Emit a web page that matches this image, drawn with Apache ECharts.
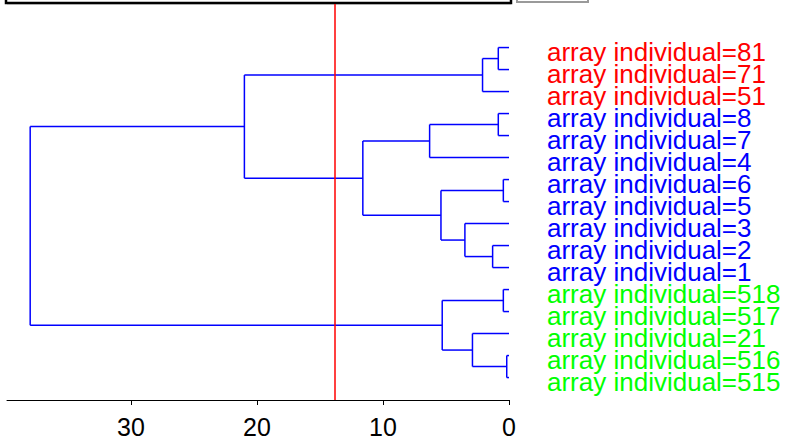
<!DOCTYPE html>
<html>
<head>
<meta charset="utf-8">
<script src="https://cdn.jsdelivr.net/npm/echarts@6/dist/echarts.min.js"></script>
<style>
  html, body { margin: 0; padding: 0; background: #fff; }
  #chart { width: 789px; height: 442px; }
</style>
</head>
<body>
<div id="chart"></div>
<script>
// Leaves, listed top to bottom in dendrogram order
const leafLabels = [
  'array individual=81', 'array individual=71', 'array individual=51',
  'array individual=8', 'array individual=7', 'array individual=4',
  'array individual=6', 'array individual=5', 'array individual=3',
  'array individual=2', 'array individual=1',
  'array individual=518', 'array individual=517', 'array individual=21',
  'array individual=516', 'array individual=515'
];
// Cluster each leaf falls into when the tree is cut
const leafCluster = [0, 0, 0, 1, 1, 1, 1, 1, 1, 1, 1, 2, 2, 2, 2, 2];

// Merge steps (hclust style): negative = leaf number (1-based), positive = earlier step
const mergeLeft   = [-15, -7, -12, -1, -4, -10,  4, -14, -9,  3,  2,  5, 12,  7, 14];
const mergeRight  = [-16, -8, -13, -2, -5, -11, -3,   1,  6,  8,  9, -6, 11, 13, 10];
const mergeHeight = [0.18, 0.45, 0.45, 0.85, 0.85, 1.3, 2.1, 2.9, 3.5, 5.3, 5.4, 6.3, 11.6, 21.0, 38.0];

// Height at which the tree is cut
const cutHeight = 13.8;

// Axis tick values
const xTicks = [0, 10, 20, 30];

const clusterColors = ['#ff0000', '#0000ff', '#00ff00'];
const FONT = '"Liberation Sans", Arial, Helvetica, sans-serif';

// Dendrogram layout: each merge sits midway between its children
const nodeY = [], nodeH = [];
function childPos(ref) {
  if (ref < 0) return { y: -ref - 1, h: 0 };
  return { y: nodeY[ref - 1], h: nodeH[ref - 1] };
}
const branchData = mergeHeight.map((h, k) => {
  const a = childPos(mergeLeft[k]);
  const b = childPos(mergeRight[k]);
  nodeY[k] = (a.y + b.y) / 2;
  nodeH[k] = h;
  return [h, a.y, b.y, a.h, b.h];
});
const leafData = leafLabels.map((_, i) => [0, i]);

const chart = echarts.init(document.getElementById('chart'), null, { renderer: 'svg' });

const branchStyle = { stroke: '#0000ff', lineWidth: 1.5, fill: null };

chart.setOption({
  animation: false,
  backgroundColor: '#ffffff',
  grid: { left: 7, right: 280, top: 4, bottom: 42 },
  xAxis: {
    type: 'value',
    position: 'bottom',
    inverse: true,
    min: 0,
    max: 39.84,
    axisLine: { show: true, onZero: false, lineStyle: { color: '#000', width: 1 } },
    axisTick: { show: true, length: 5, customValues: xTicks, lineStyle: { color: '#000' } },
    axisLabel: { customValues: xTicks, color: '#000', fontSize: 25, fontFamily: FONT, margin: 14 },
    splitLine: { show: false }
  },
  yAxis: {
    type: 'value',
    inverse: true,
    min: -1.98,
    max: 16.02,
    show: false
  },
  graphic: [
    { type: 'rect', shape: { x: 6, y: -20, width: 505, height: 23 },
      style: { fill: null, stroke: '#000', lineWidth: 2.5 }, silent: true },
    { type: 'line', shape: { x1: 7, y1: 4.5, x2: 511, y2: 4.5 },
      style: { stroke: '#aaa', lineWidth: 1 }, silent: true },
    { type: 'rect', shape: { x: 517, y: -20, width: 71, height: 22 },
      style: { fill: null, stroke: '#9a9a9a', lineWidth: 2 }, silent: true }
  ],
  series: [
    {
      type: 'custom',
      name: 'branches',
      silent: true,
      data: branchData,
      encode: { x: [0, 3, 4], y: [1, 2] },
      renderItem: function (params, api) {
        const h = api.value(0), ya = api.value(1), yb = api.value(2);
        const ha = api.value(3), hb = api.value(4);
        const pTop = api.coord([h, ya]);
        const pBot = api.coord([h, yb]);
        const pA = api.coord([ha, ya]);
        const pB = api.coord([hb, yb]);
        return {
          type: 'group',
          children: [
            { type: 'line', shape: { x1: pTop[0], y1: pTop[1], x2: pBot[0], y2: pBot[1] }, style: branchStyle },
            { type: 'line', shape: { x1: pA[0], y1: pA[1], x2: pTop[0], y2: pTop[1] }, style: branchStyle },
            { type: 'line', shape: { x1: pB[0], y1: pB[1], x2: pBot[0], y2: pBot[1] }, style: branchStyle }
          ]
        };
      },
      markLine: {
        silent: true,
        symbol: ['none', 'none'],
        label: { show: false },
        lineStyle: { color: '#ff0000', width: 1.5, type: 'solid' },
        data: [{ xAxis: cutHeight }]
      }
    },
    {
      type: 'custom',
      name: 'leaf labels',
      silent: true,
      data: leafData,
      encode: { x: 0, y: 1 },
      renderItem: function (params, api) {
        const i = params.dataIndex;
        const p = api.coord([api.value(0), api.value(1)]);
        return {
          type: 'text',
          style: {
            text: leafLabels[i],
            x: p[0] + 38,
            y: p[1] + 4,
            fill: clusterColors[leafCluster[i]],
            fontSize: 26,
            lineHeight: 21,
            fontFamily: FONT,
            align: 'left',
            verticalAlign: 'middle'
          }
        };
      }
    }
  ]
});
</script>
</body>
</html>
